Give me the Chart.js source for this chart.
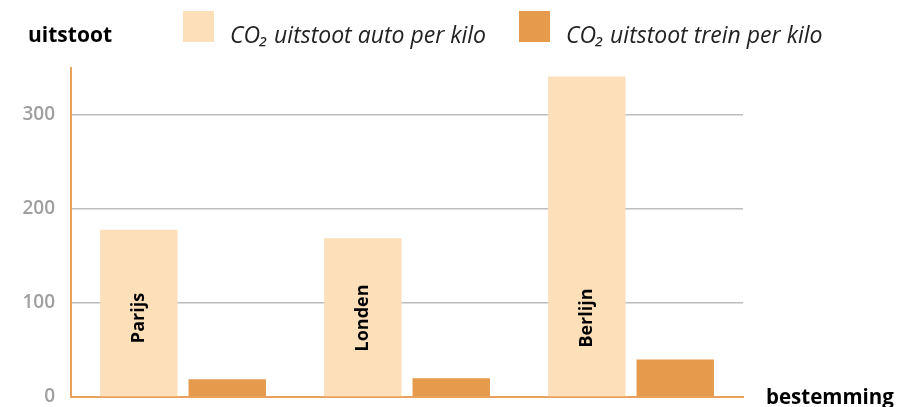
<!DOCTYPE html>
<html>
<head>
<meta charset="utf-8">
<script src="https://cdn.jsdelivr.net/npm/chart.js@4"></script>
<style>
  html, body { margin: 0; padding: 0; background: #fff; }
  #wrap { width: 919px; height: 407px; position: relative; }
</style>
</head>
<body>
<div id="wrap"><canvas id="barras"></canvas></div>
<script>
// data
const bestemmingen = ["Parijs", "Londen", "Berlijn"];
const autoPerKilo = [178, 169, 341];
const treinPerKilo = [19, 20, 40];
const yTicks = [0, 100, 200, 300];
const reeksNamen = ["CO\u2082 uitstoot auto per kilo", "CO\u2082 uitstoot trein per kilo"];

const FONT = "'Open Sans', sans-serif";
const LICHT = "#FDDFBA";
const DONKER = "#E69A4C";
const AS = "#E9A25E";

// extra teksten: titels, legenda, labels in de staven
const extras = {
  id: "extras",
  afterDatasetsDraw(chart) {
    const ctx = chart.ctx;
    const area = chart.chartArea;
    ctx.save();
    ctx.fillStyle = "#000";
    ctx.textBaseline = "alphabetic";
    ctx.textAlign = "left";
    ctx.font = "bold 21px " + FONT;
    ctx.fillText("uitstoot", 28, 42);
    ctx.font = "bold 20.5px " + FONT;
    ctx.fillText("bestemming", 766, 404);

    // legenda
    const kleuren = [LICHT, DONKER];
    const boxX = [183, 519];
    chart.data.datasets.forEach((ds, i) => {
      ctx.fillStyle = kleuren[i];
      ctx.fillRect(boxX[i], 11, 31, 31);
      ctx.fillStyle = "#222";
      ctx.font = "italic 23px " + FONT;
      ctx.fillText(ds.label, boxX[i] + 47, 43);
    });

    // bestemming in de staaf, gedraaid
    const meta = chart.getDatasetMeta(0);
    ctx.font = "bold 18px " + FONT;
    ctx.fillStyle = "#000";
    ctx.textAlign = "center";
    ctx.textBaseline = "middle";
    meta.data.forEach((bar, i) => {
      ctx.save();
      ctx.translate(bar.x, area.bottom - 79);
      ctx.rotate(-Math.PI / 2);
      ctx.fillText(chart.data.labels[i], 0, 0);
      ctx.restore();
    });
    ctx.restore();
  }
};

new Chart(document.getElementById("barras"), {
  type: "bar",
  data: {
    labels: bestemmingen,
    datasets: [
      { label: reeksNamen[0], data: autoPerKilo, backgroundColor: LICHT },
      { label: reeksNamen[1], data: treinPerKilo, backgroundColor: DONKER }
    ]
  },
  options: {
    responsive: true,
    maintainAspectRatio: false,
    animation: false,
    layout: { padding: { top: 68, right: 176, bottom: 10, left: 0 } },
    plugins: { legend: { display: false }, tooltip: { enabled: false } },
    datasets: { bar: { categoryPercentage: 0.79, barPercentage: 0.875 } },
    scales: {
      x: {
        ticks: { display: false },
        grid: { display: false, drawTicks: false },
        border: { color: AS, width: 2 },
        afterFit: (s) => { s.height = 0; }
      },
      y: {
        min: 0,
        max: 350,
        afterBuildTicks: (s) => { s.ticks = yTicks.map((v) => ({ value: v })); },
        afterFit: (s) => { s.width = 71; s.paddingTop = 0; s.paddingBottom = 0; },
        ticks: {
          padding: 16,
          color: "#9f9f9f",
          font: { family: FONT, size: 19, weight: "600" }
        },
        grid: {
          drawTicks: false,
          color: (c) => (c.tick && c.tick.value === 0 ? "rgba(0,0,0,0)" : "#bdbdbd"),
          lineWidth: 1.5
        },
        border: { color: AS, width: 2 }
      }
    }
  },
  plugins: [extras]
});
</script>
</body>
</html>
